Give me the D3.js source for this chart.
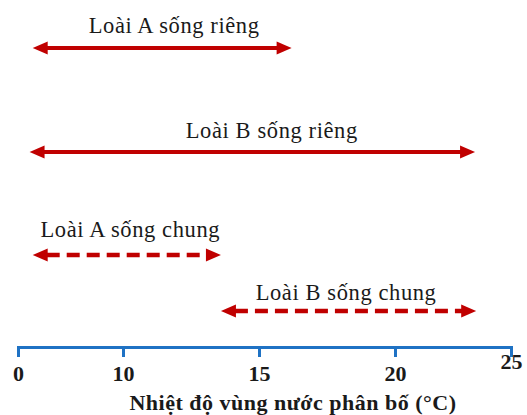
<!DOCTYPE html>
<html>
<head>
<meta charset="utf-8">
<script src="https://cdn.jsdelivr.net/npm/d3@7"></script>
<style>
  html, body { margin: 0; padding: 0; background: #fff; }
  svg { display: block; }
</style>
</head>
<body>
<svg id="chart" width="527" height="415"></svg>
<script>
// ---- data ----
const series = ["Loài A sống riêng", "Loài B sống riêng", "Loài A sống chung", "Loài B sống chung"];
const rangeStart = [1.4, 1.1, 1.4, 13.6];
const rangeEnd = [16.2, 23.45, 13.6, 23.5];
const dashed = [false, false, true, true];
const tickValues = [0, 10, 15, 20, 25];
const axisTitle = "Nhiệt độ vùng nước phân bố (°C)";

// ---- layout ----
const W = 527, H = 415;
const rowY = [48, 152, 255, 311];
const labelGap = [15, 14, 18, 11];
const labelDx = [12, 19.5, 3.5, -2.5];
const axisY = 347;
const red = "#c00000";
const blue = "#1f72c4";
const serif = "'Liberation Serif', 'Times New Roman', serif";

const svg = d3.select("#chart");

// broken (piecewise) temperature axis
const x = d3.scaleLinear()
  .domain(tickValues)
  .range([18, 123, 259, 395, 511]);

// arrows
const headLen = 15, headHalf = 6.5;
const g = svg.append("g");
series.forEach((name, i) => {
  const x0 = x(rangeStart[i]), x1 = x(rangeEnd[i]), y = rowY[i];
  g.append("line")
    .attr("x1", x0 + headLen - 1).attr("x2", x1 - headLen + 1)
    .attr("y1", y).attr("y2", y)
    .attr("stroke", red)
    .attr("stroke-width", dashed[i] ? 4.5 : 4)
    .attr("stroke-dasharray", dashed[i] ? "13,7" : null);
  g.append("path")
    .attr("d", `M${x0},${y}L${x0 + headLen},${y - headHalf}L${x0 + headLen},${y + headHalf}Z`)
    .attr("fill", red);
  g.append("path")
    .attr("d", `M${x1},${y}L${x1 - headLen},${y - headHalf}L${x1 - headLen},${y + headHalf}Z`)
    .attr("fill", red);
  g.append("text")
    .attr("x", (x0 + x1) / 2 + labelDx[i])
    .attr("y", y - labelGap[i])
    .attr("text-anchor", "middle")
    .attr("font-family", serif)
    .attr("font-size", 22.5)
    .attr("letter-spacing", "0.6")
    .attr("fill", "#1a1a1a")
    .text(name);
});

// axis
const axis = d3.axisBottom(x)
  .tickValues(tickValues)
  .tickFormat(d3.format("d"))
  .tickSizeInner(10)
  .tickSizeOuter(10)
  .tickPadding(8);

const ax = svg.append("g")
  .attr("transform", `translate(0,${axisY})`)
  .call(axis);

ax.select(".domain").attr("stroke", blue).attr("stroke-width", 3).attr("fill", "none");
ax.selectAll(".tick line").attr("stroke", blue).attr("stroke-width", 3);
ax.selectAll(".tick text")
  .attr("font-family", serif)
  .attr("font-size", 22)
  .attr("font-weight", "bold")
  .attr("fill", "#1a1a1a")
  .attr("dy", (d, i) => i === tickValues.length - 1 ? "0.2em" : "0.71em");

svg.append("text")
  .attr("x", 293)
  .attr("y", 410)
  .attr("text-anchor", "middle")
  .attr("font-family", serif)
  .attr("font-size", 22)
  .attr("font-weight", "bold")
  .attr("letter-spacing", "0.5")
  .attr("fill", "#1a1a1a")
  .text(axisTitle);
</script>
</body>
</html>
